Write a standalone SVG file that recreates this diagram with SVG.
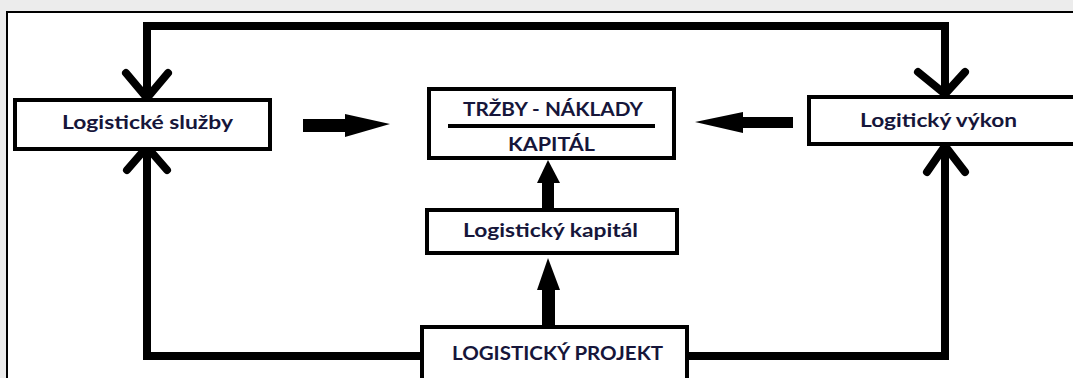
<svg xmlns="http://www.w3.org/2000/svg" width="1073" height="378" viewBox="0 0 1073 378">
<style>
.box{fill:#fff;stroke:#000;stroke-width:4}
.lbl{font-family:Lato,"Open Sans","Liberation Sans",sans-serif;font-weight:bold;font-size:19px;fill:#16163a;text-anchor:middle}
.wire{fill:none;stroke:#000;stroke-width:8}
.chev{fill:none;stroke:#000;stroke-width:8;stroke-linecap:round;stroke-linejoin:round}
.solid{fill:#000}
</style>
<rect x="0" y="0" width="1073" height="378" fill="#ececec"/>
<rect x="7" y="12" width="1070" height="370" fill="#fff" stroke="#000" stroke-width="2"/>
<g id="connectors">
<path class="wire" d="M147,100 V26 H945 V95"/>
<path class="chev" d="M126,73 L147,98 L168,73"/>
<path class="chev" d="M918,72 L945,94 L965,72"/>
<path class="wire" d="M420,356 H147 V148"/>
<path class="chev" d="M127,170 L147,147 L167,170"/>
<path class="wire" d="M689,356 H945 V144"/>
<path class="chev" d="M927,172 L945,146 L965,172"/>
<rect class="solid" x="303" y="119" width="43" height="13"/>
<polygon class="solid" points="345,114 345,137 390,124"/>
<rect class="solid" x="742" y="117" width="51" height="11"/>
<polygon class="solid" points="743,112 743,133 695,122"/>
<rect class="solid" x="542" y="182" width="12" height="27"/>
<polygon class="solid" points="537,183 560,183 548,160"/>
<rect class="solid" x="542" y="289" width="13" height="37"/>
<polygon class="solid" points="537,290 560,290 548,258"/>
</g>
<g id="node-sluzby">
<rect class="box" x="15" y="100" width="255" height="49"/>
<text class="lbl" x="147.5" y="129" textLength="171" lengthAdjust="spacingAndGlyphs">Logistické služby</text>
</g>
<g id="node-vykon">
<rect class="box" x="809" y="97" width="280" height="47"/>
<text class="lbl" x="938.5" y="127" textLength="157" lengthAdjust="spacingAndGlyphs">Logitický výkon</text>
</g>
<g id="node-ratio">
<rect class="box" x="429" y="89" width="245" height="69"/>
<text class="lbl" x="553" y="116" textLength="180" lengthAdjust="spacingAndGlyphs">TRŽBY - NÁKLADY</text>
<rect class="solid" x="448" y="124" width="207" height="4"/>
<text class="lbl" x="551.5" y="151" textLength="87" lengthAdjust="spacingAndGlyphs">KAPITÁL</text>
</g>
<g id="node-kapital">
<rect class="box" x="427" y="210" width="250" height="43"/>
<text class="lbl" x="550.5" y="237" textLength="175" lengthAdjust="spacingAndGlyphs">Logistický kapitál</text>
</g>
<g id="node-projekt">
<rect class="box" x="422" y="327" width="265" height="60"/>
<text class="lbl" x="557.5" y="360" textLength="211" lengthAdjust="spacingAndGlyphs">LOGISTICKÝ PROJEKT</text>
</g>
</svg>
